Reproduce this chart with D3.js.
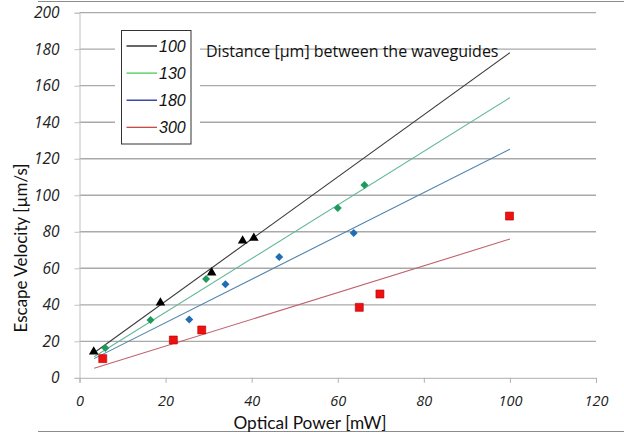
<!DOCTYPE html>
<html><head><meta charset="utf-8">
<script src="https://cdn.jsdelivr.net/npm/d3@7"></script>
<style>html,body{margin:0;padding:0;background:#fff;}svg{display:block;}</style>
</head><body>
<svg id="chart" width="624" height="439"></svg>
<script>
// ---- data ----
const xTicks = [0, 20, 40, 60, 80, 100, 120];
const yTicks = [0, 20, 40, 60, 80, 100, 120, 140, 160, 180, 200];
const seriesNames = ["100", "130", "180", "300"];

const s100x = [3.3, 18.8, 30.7, 37.9, 40.5];
const s100y = [14.3, 41.1, 57.6, 75.1, 76.6];
const s130x = [6.0, 16.5, 29.4, 60.0, 66.2];
const s130y = [16.3, 31.7, 54.1, 93.0, 105.6];
const s180x = [25.5, 33.9, 46.4, 63.7];
const s180y = [32.0, 51.2, 66.2, 79.3];
const s300x = [5.4, 21.8, 28.4, 65.0, 69.8, 99.9];
const s300y = [10.5, 20.7, 26.2, 38.6, 45.9, 88.6];

// trend line endpoints
const trendX = [3.4, 100];
const trend100 = [13.7, 178.1];
const trend130 = [11.5, 153.4];
const trend180 = [10.5, 125.2];
const trend300 = [5.2, 76.0];

const titleText = "Distance [µm] between the waveguides";
const xTitle = "Optical Power [mW]";
const yTitle = "Escape Velocity [µm/s]";

// ---- chart ----
const svg = d3.select("#chart");
const x = d3.scaleLinear().domain([0, 120]).range([79.5, 596]);
const y = d3.scaleLinear().domain([0, 200]).range([377.8, 12.7]);

// border fragments
svg.append("line").attr("x1", 38).attr("x2", 624).attr("y1", 1.5).attr("y2", 1.5)
  .attr("stroke", "#8c8c8c").attr("stroke-width", 1.2);
svg.append("line").attr("x1", 38).attr("x2", 624).attr("y1", 431.5).attr("y2", 431.5)
  .attr("stroke", "#8c8c8c").attr("stroke-width", 1.2);

// gridlines
svg.append("g").selectAll("line").data(yTicks.filter(d => d > 0)).join("line")
  .attr("x1", x(0)).attr("x2", x(120))
  .attr("y1", d => y(d)).attr("y2", d => y(d))
  .attr("stroke", "#a9a9a9").attr("stroke-width", 1.3);

// y axis
const yAxis = d3.axisLeft(y).tickValues(yTicks).tickSize(5).tickPadding(15).tickFormat(d3.format("d"));
const gy = svg.append("g").attr("transform", `translate(${x(0)},0)`).call(yAxis);
gy.select(".domain").attr("stroke", "#c0c0c0");
gy.selectAll(".tick line").attr("stroke", "#c0c0c0");
gy.selectAll(".tick text").attr("font-family", "Open Sans").attr("font-style", "italic")
  .attr("font-size", 15.5).attr("fill", "#222");

// x axis
const xAxis = d3.axisBottom(x).tickValues(xTicks).tickSize(5).tickPadding(13).tickFormat(d3.format("d"));
const gx = svg.append("g").attr("transform", `translate(0,${y(0)})`).call(xAxis);
gx.select(".domain").attr("stroke", "#b0b0b0");
gx.selectAll(".tick line").attr("stroke", "#b0b0b0");
gx.selectAll(".tick text").attr("font-family", "Open Sans").attr("font-style", "italic")
  .attr("font-size", 14.5).attr("fill", "#222");

// axis titles
svg.append("text").attr("x", 310).attr("y", 429).attr("text-anchor", "middle")
  .attr("font-family", "Lato").attr("font-size", 17.3).attr("fill", "#111").text(xTitle);
svg.append("text").attr("transform", "translate(27,248) rotate(-90)").attr("text-anchor", "middle")
  .attr("font-family", "Lato").attr("font-size", 17).attr("fill", "#111").text(yTitle);

// trend lines
const trends = [
  {v: trend100, c: "#3a3a3a"},
  {v: trend130, c: "#62b894"},
  {v: trend180, c: "#4d82ad"},
  {v: trend300, c: "#c0626c"}
];
const line = d3.line().x(d => x(d[0])).y(d => y(d[1]));
svg.append("g").selectAll("path").data(trends).join("path")
  .attr("d", t => line(trendX.map((xv, i) => [xv, t.v[i]])))
  .attr("fill", "none").attr("stroke", t => t.c).attr("stroke-width", 1.1);

// markers
const zip = (xs, ys) => xs.map((v, i) => [v, ys[i]]);
svg.append("g").selectAll("path").data(zip(s300x, s300y)).join("path")
  .attr("d", d3.symbol(d3.symbolSquare, 64))
  .attr("transform", d => `translate(${x(d[0])},${y(d[1])})`)
  .attr("fill", "#ee1111").attr("stroke", "#b00000").attr("stroke-width", 0.6);
svg.append("g").selectAll("path").data(zip(s180x, s180y)).join("path")
  .attr("d", d3.symbol(d3.symbolSquare, 32))
  .attr("transform", d => `translate(${x(d[0])},${y(d[1])}) rotate(45)`)
  .attr("fill", "#1f6db3");
svg.append("g").selectAll("path").data(zip(s130x, s130y)).join("path")
  .attr("d", d3.symbol(d3.symbolSquare, 32))
  .attr("transform", d => `translate(${x(d[0])},${y(d[1])}) rotate(45)`)
  .attr("fill", "#1f9a5c");
svg.append("g").selectAll("path").data(zip(s100x, s100y)).join("path")
  .attr("d", d3.symbol(d3.symbolTriangle, 40))
  .attr("transform", d => `translate(${x(d[0])},${y(d[1])})`)
  .attr("fill", "#000");

// legend
const legColors = ["#000000", "#33cc44", "#0a1a99", "#c03a34"];
svg.append("rect").attr("x", 115).attr("y", 24).attr("width", 85).attr("height", 127).attr("fill", "#fff");
svg.append("rect").attr("x", 121.5).attr("y", 30.5).attr("width", 69.5).attr("height", 113.5)
  .attr("fill", "#fff").attr("stroke", "#333").attr("stroke-width", 1);
const lg = svg.append("g").selectAll("g").data(seriesNames).join("g")
  .attr("transform", (d, i) => `translate(0,${46 + i * 27.1})`);
lg.append("line").attr("x1", 126.5).attr("x2", 157).attr("y1", 0).attr("y2", 0)
  .attr("stroke", (d, i) => legColors[i]).attr("stroke-width", 1.2);
lg.append("text").attr("x", 159).attr("y", 5.5).attr("font-family", "Liberation Sans")
  .attr("font-style", "italic").attr("font-size", 16).attr("fill", "#111").text(d => d);

// title
svg.append("text").attr("x", 206).attr("y", 57).attr("font-family", "Open Sans")
  .attr("font-size", 16).attr("fill", "#111").text(titleText);
</script>
</body></html>
